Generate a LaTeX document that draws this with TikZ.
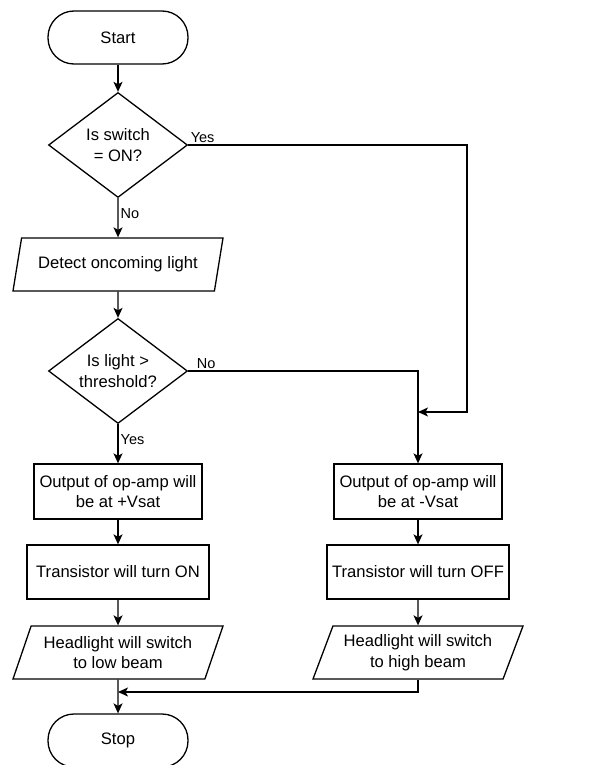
\documentclass[tikz,border=0pt]{standalone}
\usepackage{fontspec}
\setmainfont{Liberation Sans}
\usetikzlibrary{shapes.geometric,arrows.meta}
\begin{document}
\begin{tikzpicture}[x=1pt,y=-1pt,line width=1.3pt,
   font=\fontsize{16.6}{20.5}\selectfont,
   term/.style={draw,rounded corners=26pt,minimum width=140pt,minimum height=53pt},
   dec/.style={draw,diamond,aspect=1.32,inner sep=0pt,minimum width=139pt,minimum height=105pt,align=center},
   io/.style={draw,trapezium,trapezium left angle=61,trapezium right angle=119,trapezium stretches body,
              inner xsep=1pt,inner ysep=0pt,minimum height=53pt,minimum width=210pt,align=center},
   proc/.style={draw,minimum width=168pt,minimum height=55pt,align=center},
   arr/.style={-{Stealth[length=10pt,width=9pt,inset=2.5pt]}},
   lbl/.style={font=\fontsize{14.5}{17}\selectfont,inner sep=2pt}]
   \useasboundingbox (0,0) rectangle (606,765);
   % Left column
   \node[term] (start)  at (118,37.5)  {Start};
   \node[dec]  (sw)     at (118,145)   {Is switch\\= ON?};
   \node[io]   (detect) at (118,264.5) {Detect oncoming light};
   \node[dec]  (thr)    at (118,371)   {Is light >\\threshold?};
   \node[proc] (vpos)   at (118,491.5) {Output of op-amp will\\be at +Vsat};
   \node[proc,minimum width=182pt,minimum height=54pt] (ton) at (118,572) {Transistor will turn ON};
   \node[io]   (low)    at (118,652.5) {Headlight will switch\\to low beam};
   \node[term] (stop)   at (118,740.5) {Stop};
   % Right column
   \node[proc] (vneg)   at (418,491.5) {Output of op-amp will\\be at -Vsat};
   \node[proc,minimum width=182pt,minimum height=54pt] (toff) at (418,572) {Transistor will turn OFF};
   \node[io]   (high)   at (418,652.5) {Headlight will switch\\to high beam};
   % Bends
   \coordinate (loop)  at (467,412);
   \coordinate (join)  at (418,412);
   \coordinate (merge) at (118,692);
   % Connectors
   \draw[arr] (start) -- (sw);
   \draw[arr] (sw) -- node[lbl,right,pos=0.4]{No} (detect);
   \draw[arr] (sw.east) -| node[lbl,above right,pos=0]{Yes} (loop) -- (join);
   \draw[arr] (detect) -- (thr);
   \draw[arr] (thr) -- node[lbl,right,pos=0.4]{Yes} (vpos);
   \draw[arr] (thr.east) -| node[lbl,above right,pos=0,xshift=6pt]{No} (vneg);
   \draw[arr] (vpos) -- (ton);
   \draw[arr] (ton) -- (low);
   \draw[arr] (vneg) -- (toff);
   \draw[arr] (toff) -- (high);
   \draw[arr] (low) -- (stop);
   \draw[arr] (high.south) |- (merge);
\end{tikzpicture}
\end{document}
